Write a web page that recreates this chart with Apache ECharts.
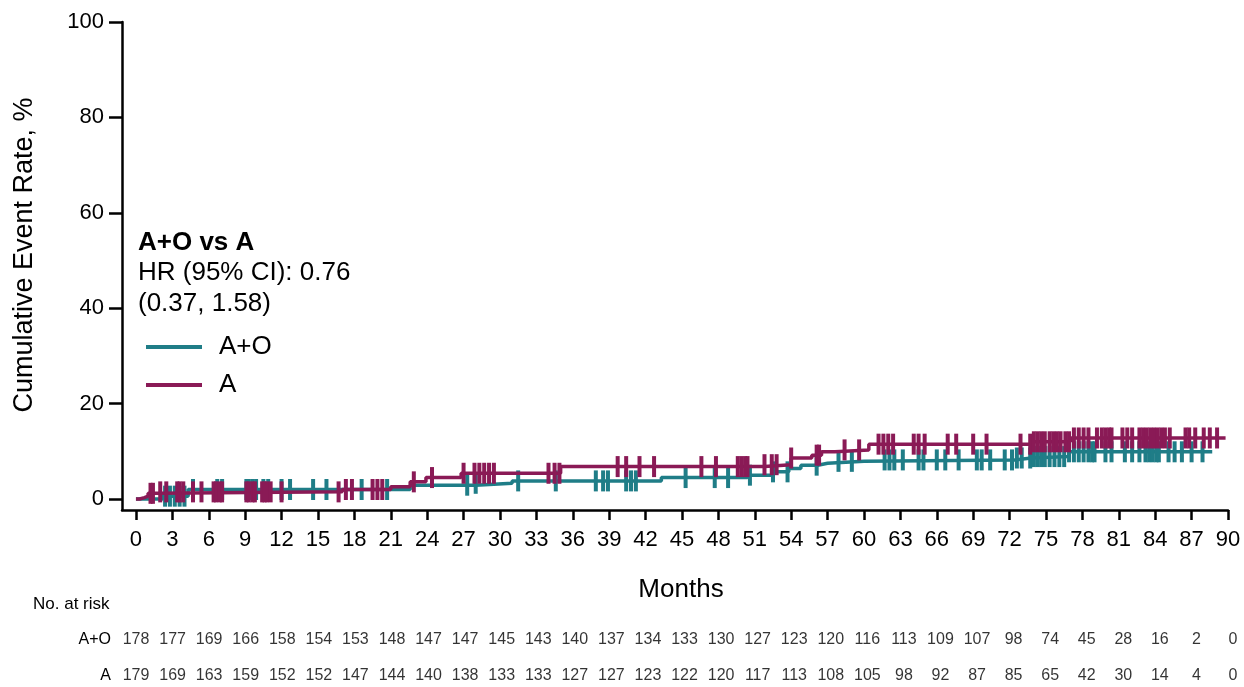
<!DOCTYPE html>
<html>
<head>
<meta charset="utf-8">
<script src="https://cdn.jsdelivr.net/npm/echarts@6/dist/echarts.min.js"></script>
<style>
    html, body { margin: 0; padding: 0; background: #fff; }
    #main { width: 1244px; height: 687px; }
</style>
</head>
<body>
<div id="main"></div>
<script>
    // 累计事件率 (%) 阶梯点 [月, 值]
    var aoSteps = [[0, 0], [2.2, 0.6], [4.3, 2.0], [22.6, 2.9], [28, 3.3], [31, 3.8], [43.3, 4.5], [50.4, 5.0],
        [52.4, 5.7], [53.8, 6.4], [54.8, 7.1], [56.2, 7.5], [57, 7.9], [60, 8.2], [72.4, 8.6], [73.8, 8.9],
        [76.9, 9.9], [88.7, 9.9]];
    var aSteps = [[0, 0], [0.3, 0.3], [0.7, 0.6], [1.0, 1.2], [1.8, 1.5], [17, 2.0], [21, 2.6], [22.6, 3.6],
        [23.9, 4.5], [26.8, 5.4], [35, 6.8], [51.8, 7.2], [54, 8.6], [55.7, 9.2], [56.5, 9.9], [57.6, 10.3],
        [60.4, 11.5], [73.8, 12.0], [77, 12.8], [89.8, 12.8]];

    // 删失时间 (月)
    var aoCensor = [2.4, 2.8, 3.2, 3.6, 4.0, 4.7, 6.7, 7.1, 9.1, 9.3, 9.6, 9.9, 10.5, 10.9, 12.0, 12.7, 14.6, 15.7,
        18.6, 20.7, 27.3, 28.0, 31.5, 34.6, 37.9, 38.5, 38.9, 40.4, 40.8, 41.2, 45.3, 47.7, 48.8, 50.6, 52.5,
        53.7, 56.1, 57.9, 59.0, 61.7, 62.1, 62.5, 63.2, 64.5, 64.9, 66.0, 66.7, 67.8, 69.3, 69.7, 70.4, 71.6,
        72.2, 72.6, 73.0, 73.7, 74.0, 74.3, 74.6, 74.9, 75.3, 75.7, 76.1, 76.5, 76.9, 77.3, 77.7, 78.1, 78.5,
        78.8, 79.0, 79.9, 80.4, 81.5, 82.1, 82.7, 83.2, 83.5, 83.8, 84.1, 84.3, 85.1, 85.6, 86.2, 87.0, 87.9];
    var aCensor = [1.2, 1.4, 2.0, 2.5, 3.4, 3.6, 3.9, 4.7, 5.4, 6.4, 6.6, 6.9, 7.1, 9.1, 9.3, 9.6, 9.8, 10.4,
        10.6, 10.8, 11.1, 12.0, 16.7, 17.3, 17.8, 19.5, 19.9, 20.3, 22.9, 24.4, 27.0, 27.9, 28.3, 28.7, 29.1,
        29.5, 34.0, 34.5, 34.9, 39.7, 40.4, 41.5, 42.7, 46.6, 47.8, 49.6, 49.9, 50.2, 50.4, 51.8, 52.4, 52.8,
        54.0, 56.1, 56.3, 58.4, 59.6, 61.2, 61.6, 62.0, 62.4, 64.1, 64.5, 65.0, 66.9, 67.6, 69.0, 70.1, 72.9,
        73.7, 74.0, 74.3, 74.6, 74.9, 75.3, 75.6, 75.9, 76.2, 76.6, 76.9, 77.3, 77.7, 78.1, 78.5, 79.2, 79.6,
        79.9, 80.2, 80.4, 81.3, 81.7, 82.1, 82.7, 83.0, 83.3, 83.6, 83.9, 84.2, 84.5, 84.8, 85.2, 86.5, 86.8,
        87.3, 88.0, 88.5, 89.1];

    // 刻度
    var monthTicks = [0, 3, 6, 9, 12, 15, 18, 21, 24, 27, 30, 33, 36, 39, 42, 45, 48, 51, 54, 57, 60, 63, 66,
        69, 72, 75, 78, 81, 84, 87, 90];
    var rateTicks = [0, 20, 40, 60, 80, 100];

    // 风险人数
    var riskAO = [178, 177, 169, 166, 158, 154, 153, 148, 147, 147, 145, 143, 140, 137, 134, 133, 130, 127, 123,
        120, 116, 113, 109, 107, 98, 74, 45, 28, 16, 2, 0];
    var riskA = [179, 169, 163, 159, 152, 152, 147, 144, 140, 138, 133, 133, 127, 127, 123, 122, 120, 117, 113,
        108, 105, 98, 92, 87, 85, 65, 42, 30, 14, 4, 0];

    var tealColor = '#1f7d87';
    var plumColor = '#8a1a56';
    var fontName = '"Liberation Sans", Arial, sans-serif';

    function valueAt(steps, t) {
        var v = 0;
        for (var i = 0; i < steps.length; i++) {
            if (steps[i][0] <= t) v = steps[i][1];
        }
        return v;
    }

    function censorPoints(steps, times) {
        return times.map(function (t) { return [t, valueAt(steps, t)]; });
    }

    function riskPoints(list, row) {
        return list.map(function (n, i) { return {value: [monthTicks[i], row], label: {formatter: String(n)}}; });
    }

    var chart = echarts.init(document.getElementById('main'));
    var option = {
        animation: false,
        textStyle: {fontFamily: fontName, color: '#000'},
        grid: [
            {left: 122, right: 16, top: 22, bottom: 177},
            {left: 122, right: 11, top: 640, height: 36}
        ],
        xAxis: [
            {
                type: 'value', gridIndex: 0, min: -1.15, max: 90,
                axisLine: {onZero: false, lineStyle: {color: '#000', width: 2.5}},
                axisTick: {customValues: monthTicks, length: 10, lineStyle: {color: '#000', width: 2.5}},
                axisLabel: {customValues: monthTicks, fontSize: 22, color: '#000', margin: 19, fontFamily: fontName},
                splitLine: {show: false}
            },
            {
                type: 'value', gridIndex: 1, min: -1.15, max: 90, show: false
            }
        ],
        yAxis: [
            {
                type: 'value', gridIndex: 0, min: -2.3, max: 100,
                axisLine: {show: true, onZero: false, lineStyle: {color: '#000', width: 2.5}},
                axisTick: {show: true, customValues: rateTicks, length: 13, lineStyle: {color: '#000', width: 2.5}},
                axisLabel: {customValues: rateTicks, fontSize: 22, color: '#000', margin: 18, fontFamily: fontName},
                splitLine: {show: false}
            },
            {
                type: 'value', gridIndex: 1, min: 0, max: 1,
                axisLine: {show: false}, axisTick: {show: false}, splitLine: {show: false},
                axisLabel: {
                    customValues: [0, 1], fontSize: 16, color: '#000', margin: 11, fontFamily: fontName,
                    formatter: function (v) { return v === 1 ? 'A+O' : 'A'; }
                }
            }
        ],
        legend: {
            data: ['A+O', 'A'],
            orient: 'vertical',
            left: 141, top: 329,
            icon: 'rect',
            itemWidth: 56, itemHeight: 4, itemGap: 12,
            textStyle: {fontSize: 26, color: '#000', fontFamily: fontName, padding: [0, 0, 0, 12]}
        },
        graphic: [
            {type: 'text', left: 138, top: 230, style: {text: 'A+O vs A', font: 'bold 26px ' + fontName, fill: '#000'}},
            {type: 'text', left: 138, top: 260, style: {text: 'HR (95% CI): 0.76', font: '26px ' + fontName, fill: '#000'}},
            {type: 'text', left: 138, top: 291, style: {text: '(0.37, 1.58)', font: '26px ' + fontName, fill: '#000'}},
            {type: 'text', left: 33, top: 596, style: {text: 'No. at risk', font: '17px ' + fontName, fill: '#000'}},
            {
                type: 'text', x: 25, y: 255, rotation: Math.PI / 2,
                style: {text: 'Cumulative Event Rate, %', font: '27px ' + fontName, fill: '#000',
                    align: 'center', verticalAlign: 'middle'}
            },
            {
                type: 'text', x: 681, y: 590,
                style: {text: 'Months', font: '26px ' + fontName, fill: '#000', align: 'center', verticalAlign: 'middle'}
            }
        ],
        series: [
            {
                name: 'A+O', type: 'line', step: 'end', data: aoSteps, showSymbol: false, symbol: 'none',
                xAxisIndex: 0, yAxisIndex: 0, z: 2,
                itemStyle: {color: tealColor}, lineStyle: {color: tealColor, width: 3.5}
            },
            {
                name: 'A+O censor', type: 'scatter', data: censorPoints(aoSteps, aoCensor),
                xAxisIndex: 0, yAxisIndex: 0, z: 2,
                symbol: 'rect', symbolSize: [4, 21], itemStyle: {color: tealColor, opacity: 1}
            },
            {
                name: 'A', type: 'line', step: 'end', data: aSteps, showSymbol: false, symbol: 'none',
                xAxisIndex: 0, yAxisIndex: 0, z: 3,
                itemStyle: {color: plumColor}, lineStyle: {color: plumColor, width: 3.5}
            },
            {
                name: 'A censor', type: 'scatter', data: censorPoints(aSteps, aCensor),
                xAxisIndex: 0, yAxisIndex: 0, z: 3,
                symbol: 'rect', symbolSize: [4, 21], itemStyle: {color: plumColor, opacity: 1}
            },
            {
                name: 'risk A+O', type: 'scatter', data: riskPoints(riskAO, 1),
                xAxisIndex: 1, yAxisIndex: 1, symbolSize: 0, silent: true,
                label: {show: true, position: 'inside', fontSize: 16, color: '#000', fontFamily: fontName}
            },
            {
                name: 'risk A', type: 'scatter', data: riskPoints(riskA, 0),
                xAxisIndex: 1, yAxisIndex: 1, symbolSize: 0, silent: true,
                label: {show: true, position: 'inside', fontSize: 16, color: '#000', fontFamily: fontName}
            }
        ]
    };
    chart.setOption(option);
</script>
</body>
</html>
